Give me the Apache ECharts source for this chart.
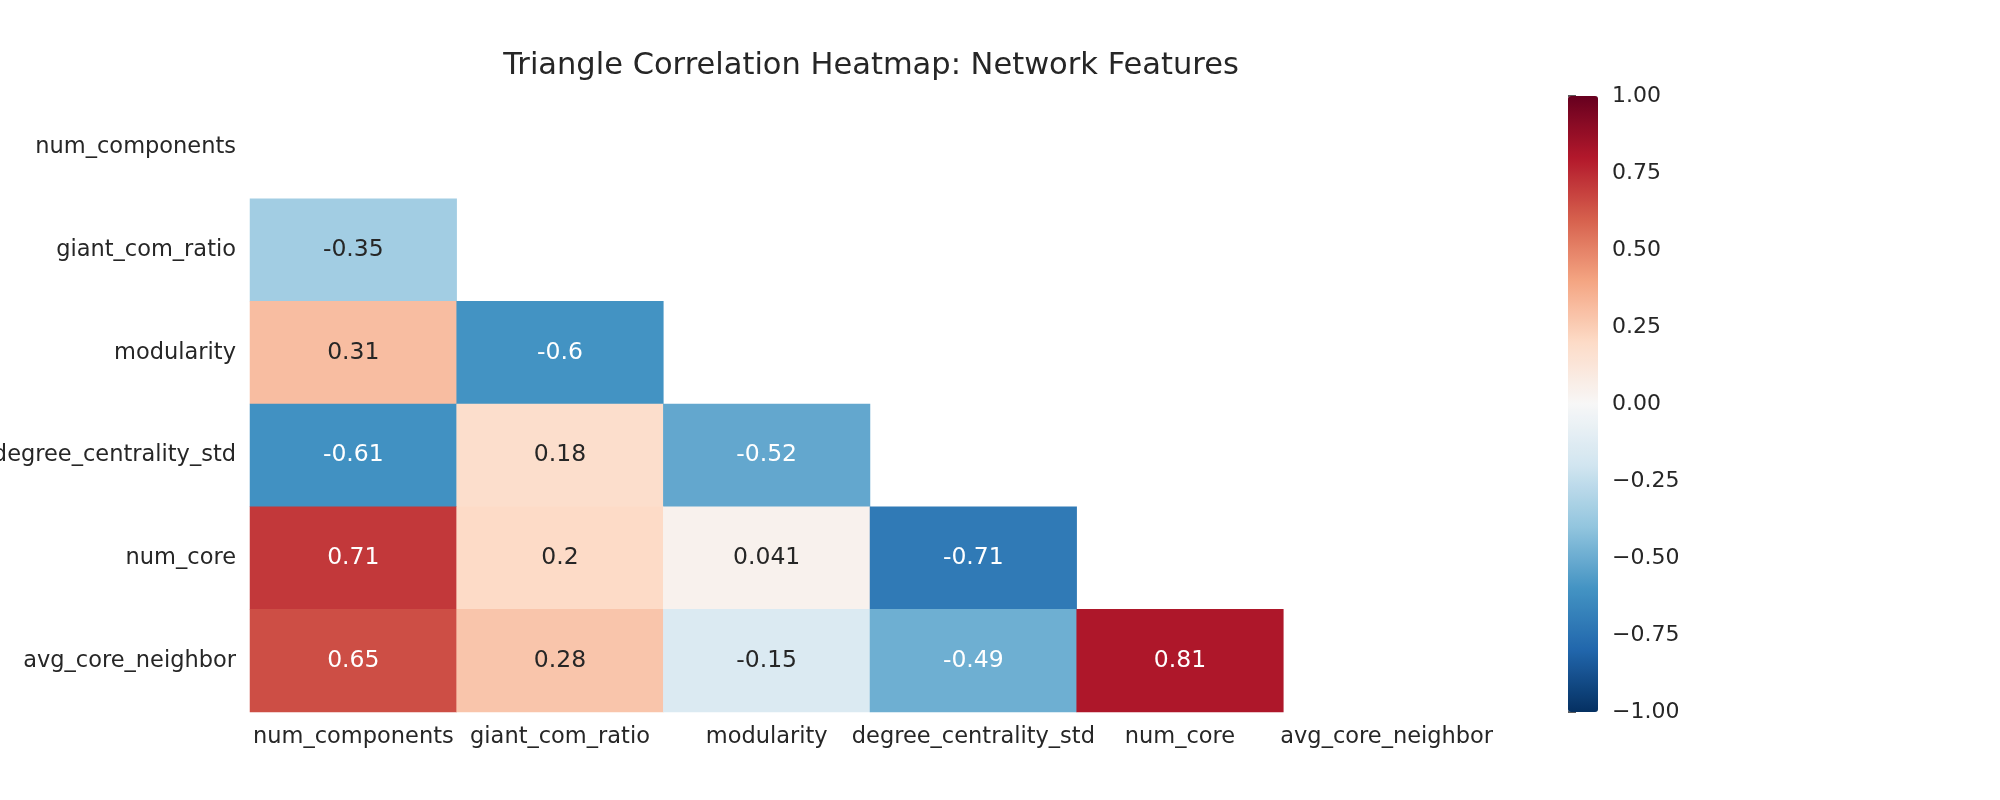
<!DOCTYPE html>
<html>
<head>
<meta charset="utf-8">
<script src="https://cdn.jsdelivr.net/npm/echarts@6/dist/echarts.min.js"></script>
<style>html,body{margin:0;padding:0;background:#fff}#c{width:2000px;height:800px}</style>
</head>
<body>
<div id="c"></div>
<script>
const features = ['num_components','giant_com_ratio','modularity','degree_centrality_std','num_core','avg_core_neighbor'];
// lower triangle rows (row i has i values, columns 0..i-1)
const row_giant_com_ratio = [-0.35];
const row_modularity = [0.31, -0.6];
const row_degree_centrality_std = [-0.61, 0.18, -0.52];
const row_num_core = [0.71, 0.2, 0.041, -0.71];
const row_avg_core_neighbor = [0.65, 0.28, -0.15, -0.49, 0.81];
const colorbarTicks = [-1, -0.75, -0.5, -0.25, 0, 0.25, 0.5, 0.75, 1];
const titleText = 'Triangle Correlation Heatmap: Network Features';

const rows = [[], row_giant_com_ratio, row_modularity, row_degree_centrality_std, row_num_core, row_avg_core_neighbor];
const FONT = 'DejaVu Sans';
const TXT = '#262626';
const data = [];
rows.forEach((r, i) => r.forEach((v, j) => {
  data.push({
    value: [j, i, v],
    label: { color: Math.abs(v) >= 0.45 ? '#ffffff' : TXT }
  });
}));

const chart = echarts.init(document.getElementById('c'));
chart.setOption({
  backgroundColor: '#ffffff',
  animation: false,
  title: {
    text: titleText,
    left: 866, top: 46, textAlign: 'center',
    textStyle: { fontFamily: FONT, fontSize: 30.5, fontWeight: 'normal', color: TXT }
  },
  grid: [
    { left: 250, top: 96, width: 1240, height: 616, containLabel: false, outerBoundsMode: 'none' },
    { left: 1568, top: 96, width: 30, height: 616, containLabel: false, outerBoundsMode: 'none' }
  ],
  xAxis: [
    { type: 'category', data: features, gridIndex: 0, position: 'bottom',
      axisLine: { show: false }, axisTick: { show: false }, splitLine: { show: false },
      axisLabel: { fontFamily: FONT, fontSize: 22.5, color: TXT, margin: 14, interval: 0 } },
    { type: 'value', gridIndex: 1, show: false, min: 0, max: 1 }
  ],
  yAxis: [
    { type: 'category', data: features, gridIndex: 0, inverse: true,
      axisLine: { show: false }, axisTick: { show: false }, splitLine: { show: false },
      axisLabel: { fontFamily: FONT, fontSize: 22.5, color: TXT, margin: 14, interval: 0 } },
    { type: 'value', gridIndex: 1, position: 'right', min: -1, max: 1, interval: 0.25,
      axisLine: { show: false }, splitLine: { show: false },
      axisTick: { show: true, length: 8, lineStyle: { color: TXT, width: 1.5 } },
      axisLabel: { fontFamily: FONT, fontSize: 22, color: TXT, margin: 14,
        formatter: v => (v < 0 ? '\u2212' : '') + Math.abs(v).toFixed(2) } }
  ],
  visualMap: {
    type: 'continuous', min: -1, max: 1, seriesIndex: 0,
    calculable: false, show: true, orient: 'vertical', hoverLink: false,
    left: 1568, top: 96, itemWidth: 30, itemHeight: 616, padding: 0,
    text: null, showLabel: false,
    inRange: { color: ['#053061','#2166ac','#4393c3','#92c5de','#d1e5f0','#f7f7f7','#fddbc7','#f4a582','#d6604d','#b2182b','#67001f'] }
  },
  series: [{
    type: 'heatmap', xAxisIndex: 0, yAxisIndex: 0,
    data: data,
    label: { show: true, fontFamily: FONT, fontSize: 23.5,
      formatter: p => String(p.value[2]) },
    itemStyle: { borderWidth: 0 },
    emphasis: { disabled: true }
  }]
});
</script>
</body>
</html>
